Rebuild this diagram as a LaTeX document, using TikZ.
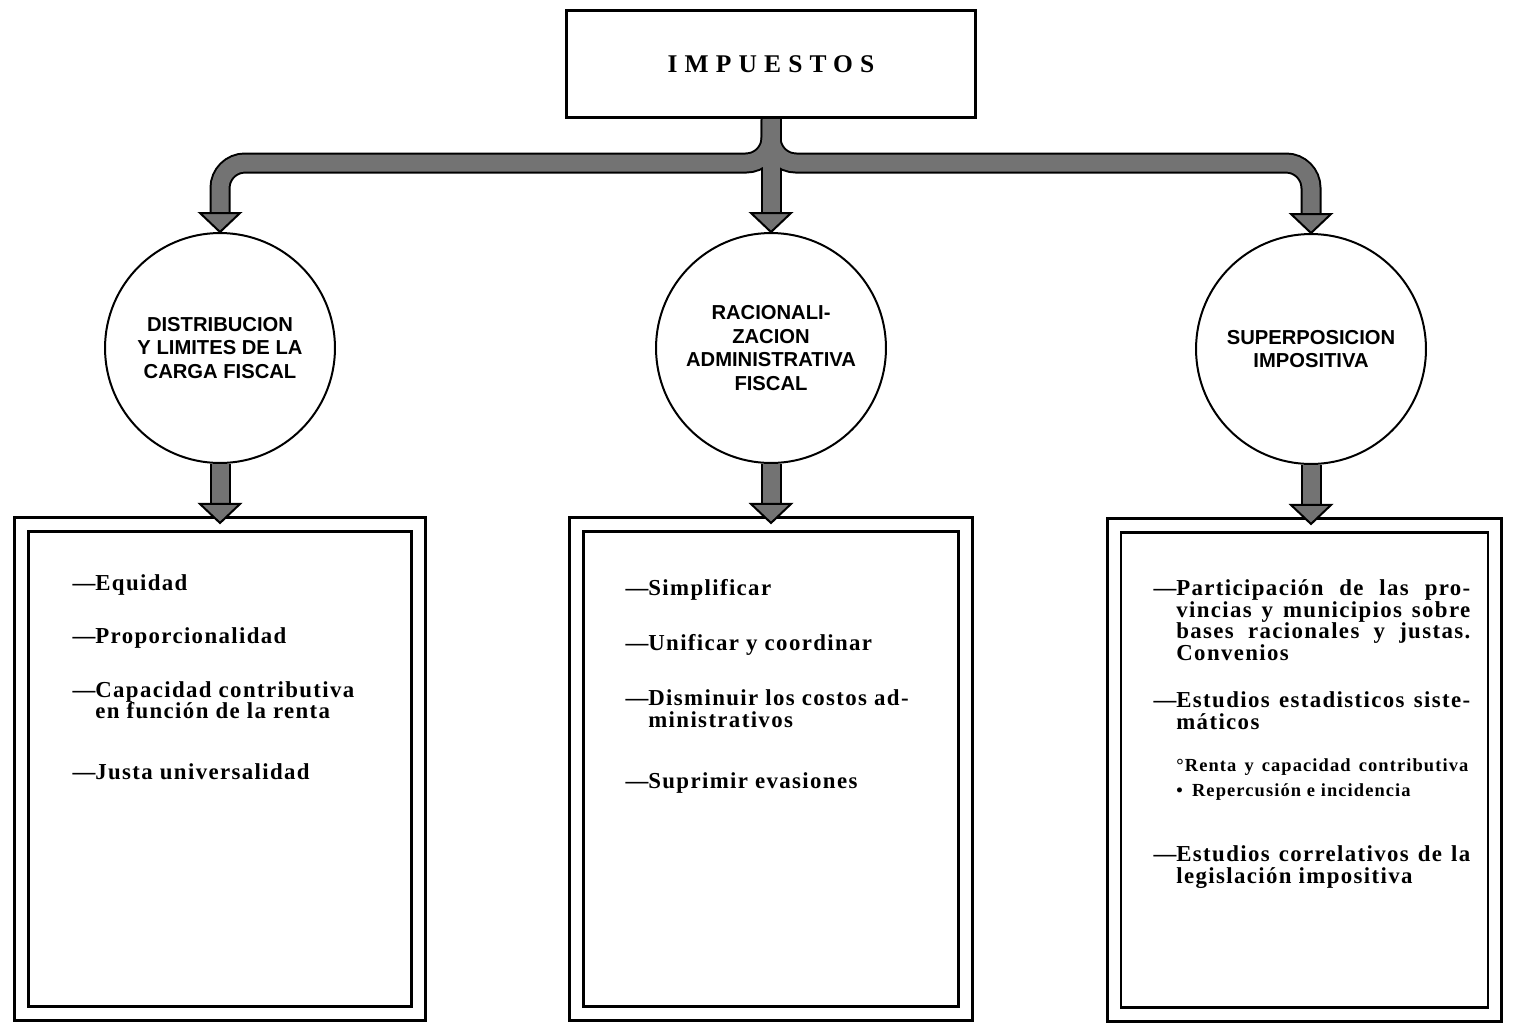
\documentclass[tikz,border=0pt]{standalone}
\usepackage{fontspec}
\setmainfont{Liberation Serif}
\newfontfamily\titulofont{Liberation Serif}[LetterSpace=28]
\newfontfamily\listafont{Liberation Serif}[LetterSpace=6]
\newfontfamily\circfont{Liberation Sans}
\usetikzlibrary{positioning}
\newcommand{\guion}{\llap{—}}
\newcommand{\lleno}[1]{\makebox[5.88cm][s]{#1}}

\begin{document}
\begin{tikzpicture}[
    x=0.02cm, y=-0.02cm,
    titulo/.style={draw, line width=0.06cm, minimum width=8.2cm, minimum height=2.16cm,
                   font=\titulofont\bfseries\fontsize{14.5}{16}\selectfont},
    disco/.style={circle, draw, line width=0.04cm, minimum size=4.6cm, inner sep=0pt,
                  align=center, font=\circfont\bfseries\fontsize{11.5}{13.3}\selectfont},
    marco/.style={draw, line width=0.055cm, double, double distance=0.22cm,
                  minimum height=9.78cm},
    lista/.style={anchor=north west, align=left, inner sep=0pt,
                  font=\listafont\bfseries\fontsize{13}{12.4}\selectfont},
    borde/.style={line width=0.42cm, rounded corners=0.5cm},
    relleno/.style={line width=0.34cm, rounded corners=0.5cm, draw=black!55},
    punta/.style={fill=black!55, draw=black, line width=0.04cm, line join=miter}
  ]
  \useasboundingbox (0,0) rectangle (1513,1029);

  \node[titulo] (imp) at (771,64) {IMPUESTOS};
  \coordinate (barra) at (0,163);

  \node[disco] (dist)  at (220,348) {DISTRIBUCION\\Y LIMITES DE LA\\CARGA FISCAL};
  \node[disco] (racio) at (771,348) {RACIONALI-\\ZACION\\ADMINISTRATIVA\\FISCAL};
  \node[disco] (super) at (1311,349) {SUPERPOSICION\\IMPOSITIVA};

  \node[marco, minimum width=7.94cm, below=1.18cm of dist]  (pdist)  {};
  \node[marco, minimum width=7.78cm, below=1.18cm of racio] (pracio) {};
  \node[marco, minimum width=7.62cm, below=1.18cm of super, xshift=-0.13cm] (psuper) {};

  % flechas gruesas
  \foreach \d in {dist,super}
    \draw[borde] (imp.south) -- (imp.south |- barra) -- (\d.north |- barra) -- ([yshift=0.3cm]\d.north);
  \draw[borde] (imp.south) -- ([yshift=0.3cm]racio.north);
  \foreach \d/\p in {dist/pdist,racio/pracio,super/psuper}
    \draw[borde, shorten >=0.3cm] (\d.south) -- (\d.south |- \p.north);
  \foreach \d in {dist,super}
    \draw[relleno] (imp.south) -- (imp.south |- barra) -- (\d.north |- barra) -- ([yshift=0.3cm]\d.north);
  \draw[relleno] (imp.south) -- ([yshift=0.3cm]racio.north);
  \foreach \d/\p in {dist/pdist,racio/pracio,super/psuper}
    \draw[relleno, shorten >=0.3cm] (\d.south) -- (\d.south |- \p.north);
  \foreach \d/\p in {dist/pdist,racio/pracio,super/psuper} {
    \filldraw[punta] (\d.north) -- ++(-20,-19) -- ++(40,0) -- cycle;
    \filldraw[punta] (\d.south |- \p.north) -- ++(-20,-19) -- ++(40,0) -- cycle;
  }

  \node[lista] (tdist) at (95,574) {\guion Equidad\\[18pt]
    \guion Proporcionalidad\\[18pt]
    \guion Capacidad contributiva\\
    en función de la renta\\[22pt]
    \guion Justa universalidad};
  \node[lista] (tracio) at (648,579) {\guion Simplificar\\[19pt]
    \guion Unificar y coordinar\\[19pt]
    \guion Disminuir los costos ad-\\
    ministrativos\\[22pt]
    \guion Suprimir evasiones};
  \node[lista] (tsuper) at (1176,579) {\guion\lleno{Participación de las pro-}\\
    \lleno{vincias y municipios sobre}\\
    \lleno{bases racionales y justas.}\\
    Convenios\\[14.5pt]
    \guion\lleno{Estudios estadisticos siste-}\\
    máticos\\[11.6pt]
    {\fontsize{10.5}{11}\selectfont\makebox[5.84cm][s]{°Renta y capacidad contributiva}}\\[1.4pt]
    {\fontsize{10.5}{11}\selectfont •\enspace Repercusión e incidencia}\\[25pt]
    \guion\lleno{Estudios correlativos de la}\\
    legislación impositiva};
\end{tikzpicture}
\end{document}
